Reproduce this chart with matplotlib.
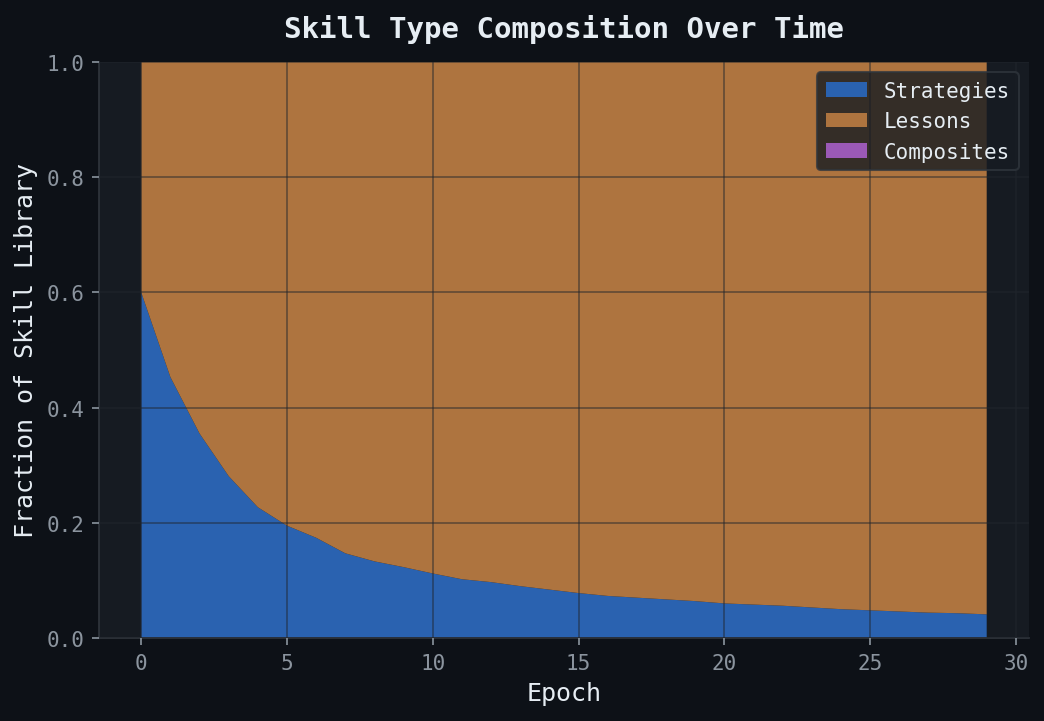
import numpy as np
import matplotlib
matplotlib.use('Agg')
import matplotlib.pyplot as plt

epochs = list(range(30))
strategies = [0.600, 0.453, 0.355, 0.281, 0.227, 0.195, 0.174, 0.147, 0.133, 0.123,
              0.112, 0.102, 0.097, 0.090, 0.084, 0.078, 0.073, 0.070, 0.067, 0.064,
              0.060, 0.058, 0.056, 0.053, 0.050, 0.048, 0.046, 0.044, 0.043, 0.041]
composites = [0.0] * 30
lessons = [1.0 - s - c for s, c in zip(strategies, composites)]

labels = ['Strategies', 'Lessons', 'Composites']
colors = ['#2a62b0', '#ae743f', '#9b59b6']

plt.rcParams['font.family'] = 'DejaVu Sans Mono'

fig = plt.figure(figsize=(6.96, 4.8133), dpi=150, facecolor='#0d1117')
ax = fig.add_axes([0.0948, 0.115, 0.8908, 0.7977])
ax.set_facecolor('#161b22')

ax.stackplot(epochs, strategies, lessons, composites, labels=labels, colors=colors)

ax.set_ylim(0, 1)
ax.set_axisbelow(False)
ax.grid(True, color='#21262d', alpha=0.55, linewidth=0.8)

for side in ['top', 'right']:
    ax.spines[side].set_visible(False)
for side in ['left', 'bottom']:
    ax.spines[side].set_color('#30363d')
ax.tick_params(colors='#8b949e', labelsize=10)

ax.set_xlabel('Epoch', color='#e6edf3', fontsize=12)
ax.set_ylabel('Fraction of Skill Library', color='#e6edf3', fontsize=12)
ax.set_title('Skill Type Composition Over Time', color='#e6edf3', fontsize=14,
             fontweight='bold', pad=12)

leg = ax.legend(loc='upper right', fontsize=10, facecolor='#161b22', edgecolor='#30363d',
                framealpha=0.8)
for t in leg.get_texts():
    t.set_color('#e6edf3')

fig.savefig('out.png', dpi=150, facecolor=fig.get_facecolor())
